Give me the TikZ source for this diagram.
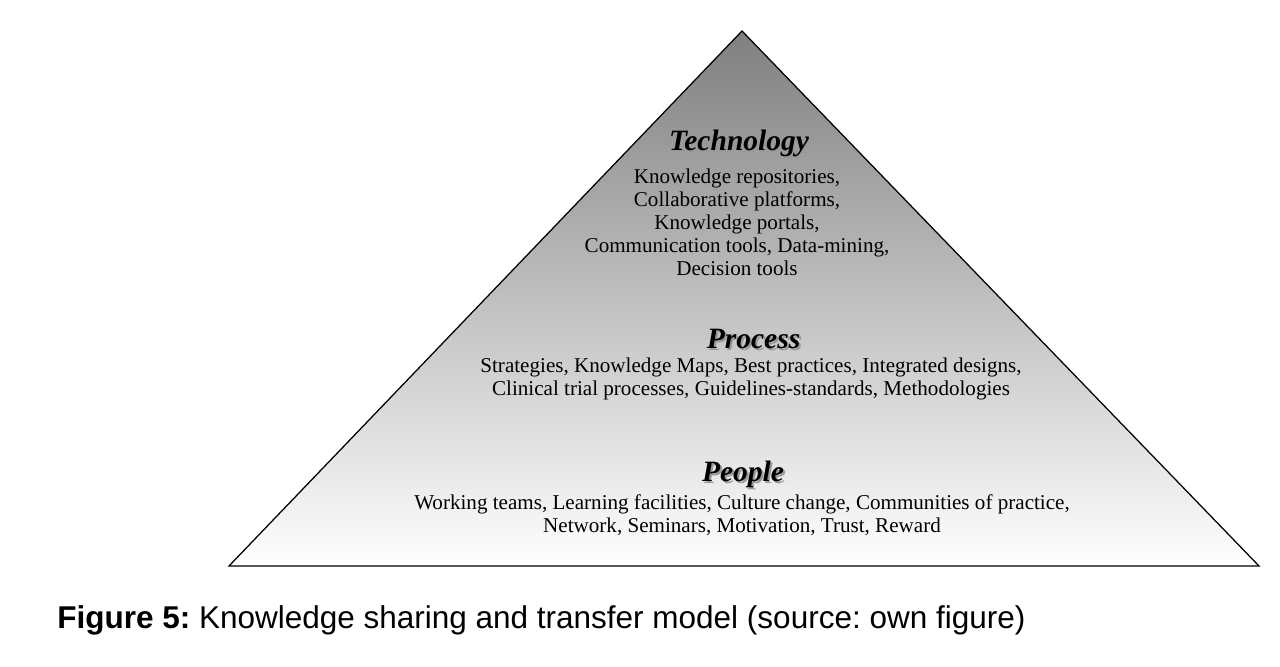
\documentclass[tikz,border=0pt]{standalone}
\usepackage{fontspec}
\setmainfont{Liberation Serif}
\newfontfamily\captionfont{Liberation Sans}
\usetikzlibrary{positioning}
\frenchspacing

\tikzset{
  layertitle/.style={anchor=base, font=\fontsize{21}{24}\selectfont\bfseries\itshape},
  layershadow/.style={layertitle, text=black!40},
  layertext/.style={align=center, font=\fontsize{15}{16.4}\selectfont}
}

\begin{document}
\begin{tikzpicture}[x=0.025cm, y=-0.025cm]
  \useasboundingbox (0,0) rectangle (1280,666);
  % pyramid
  \shade[top color=black!50, bottom color=white] (742,31) -- (1259,566) -- (229,566) -- cycle;
  \draw[line width=0.9pt, line join=miter] (742,31) -- (1259,566) -- (229,566) -- cycle;
  % technology
  \node[layershadow] (techshadow) at (741,152) {Technology};
  \node[layertitle] (tech) at (739,150) {Technology};
  \node[layertext] (techtext) at (737,222) {Knowledge repositories,\\ Collaborative platforms,\\ Knowledge portals,\\ Communication tools, Data-mining,\\ Decision tools};
  % process
  \node[layershadow] (procshadow) at (755.5,350) {Process};
  \node[layertitle] (proc) at (753.5,348) {Process};
  \node[layertext] (proctext) at (751,379) {Strategies, Knowledge Maps, Best practices, Integrated designs,\\ Clinical trial processes, Guidelines-standards, Methodologies};
  % people
  \node[layershadow] (peopshadow) at (745,483) {People};
  \node[layertitle] (peop) at (743,481) {People};
  \node[layertext] (peoptext) at (742,515.5) {Working teams, Learning facilities, Culture change, Communities of practice,\\ Network, Seminars, Motivation, Trust, Reward};
  % caption
  \node[anchor=west, inner sep=0pt, font=\captionfont\fontsize{22.4}{25}\selectfont] (caption) at (57,620) {\textbf{Figure 5:} Knowledge sharing and transfer model (source: own figure)};
\end{tikzpicture}
\end{document}
